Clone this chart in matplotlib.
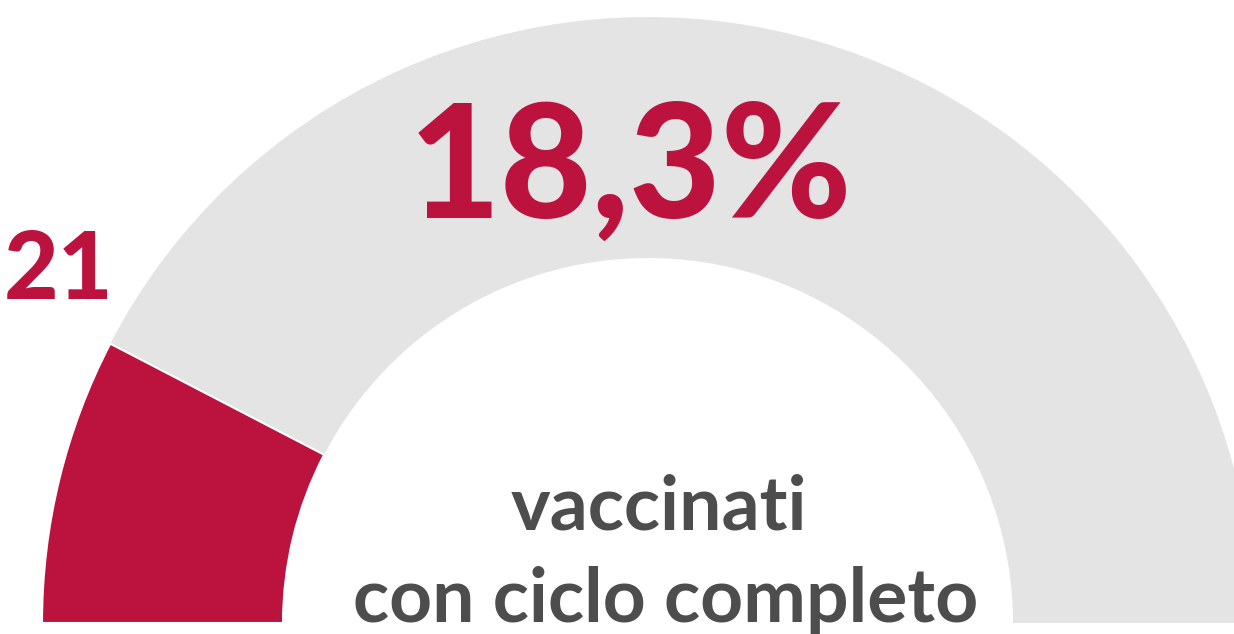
import matplotlib
matplotlib.use("Agg")
import matplotlib.pyplot as plt
from matplotlib.patches import Wedge

# data
gauge_value = 18.3
gauge_max = 120.0
value_label = "18,3%"
caption_lines = ["vaccinati", "con ciclo completo"]
side_label = "21"

RED = "#BB133E"
GRAY = "#E4E4E4"
TXT = "#4D4D4D"

W, H = 1234, 634
fig = plt.figure(figsize=(W / 100, H / 100), dpi=100)
ax = fig.add_axes([0, 0, 1, 1])
ax.set_xlim(0, W)
ax.set_ylim(0, H)
ax.axis("off")

cx, cy = 648, 11
r_out, r_in = 606, 365
ang = gauge_value / gauge_max * 180.0

ax.add_patch(Wedge((cx, cy), r_out, 0, 180 - ang, width=r_out - r_in,
                   facecolor=GRAY, edgecolor="none"))
ax.add_patch(Wedge((cx, cy), r_out, 180 - ang, 180, width=r_out - r_in,
                   facecolor=RED, edgecolor="white", linewidth=1.5))

fam = ["Lato", "DejaVu Sans"]
ax.text(631, H - 172, value_label, ha="center", va="center", fontsize=114,
        fontweight="black", color=RED, family=fam)
ax.text(4, H - 272, side_label, ha="left", va="center", fontsize=68,
        fontweight="black", color=RED, family=fam)
ax.text(659, H - 530, caption_lines[0], ha="center", va="baseline", fontsize=54,
        fontweight="bold", color=TXT, family=fam)
ax.text(666, H - 622, caption_lines[1], ha="center", va="baseline", fontsize=54,
        fontweight="bold", color=TXT, family=fam)

fig.savefig("out.png", dpi=100)
